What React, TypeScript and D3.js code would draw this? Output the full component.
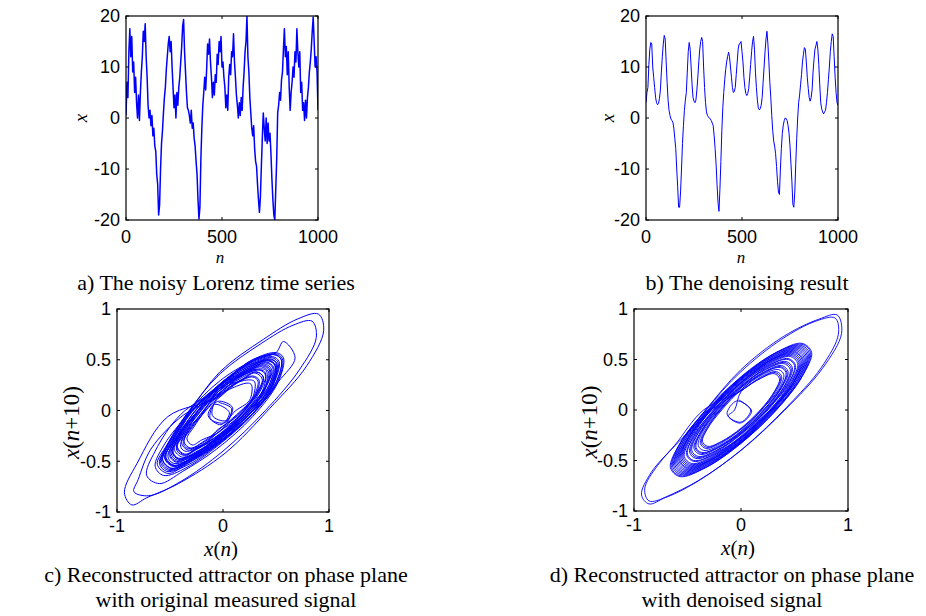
import React from "react";
import * as d3 from "d3";

// ---------------- data ----------------
// sample spacing of the time series (n units)
const nStep = 5;

// a) noisy Lorenz x(n), n = 0,5,...,1000
const noisyX = [
  0.5, 7, 4, 13, 17.5, 12, 16, 9, 11, 5, 8, 3, 0, 4.5, -0.5, 5, 9, 12, 17, 15,
  18.5, 12, 8, 2.5, 0, 1.5, -1.5, 0.5, -3.5, -2, -5.5, -6.5, -11, -13, -19, -17, -10, -5, -2.5, 1,
  4, 6, 9.5, 12, 14.5, 16, 13, 15, 10, 6, 2, 4.5, 0, 5, 2.5, 6, 8, 11, 14, 18,
  19.3, 13, 9, 5, 2, 1.5, 0.5, -1, 1.5, -2, -1, -4, -5.5, -8.5, -11, -16, -19.8, -17.5, -8, -2,
  2.5, 5, 8, 5.5, 9.5, 14.5, 12.5, 15.5, 11, 8, 4, 7, 4.5, 8.5, 7, 12.5, 10.5, 15, 13, 16,
  10, 11, 8, 6, 2, 4.5, 1.5, 8, 10.5, 8.5, 13, 12, 16.5, 11, 8, 4.5, 2.5, 0, 3, 0.5,
  4, 1.5, 6, 9, 13, 15, 20, 12, 9, 4, 1, -2, -3.5, -1.5, -6, -8.5, -9.5, -13, -16, -18.5,
  -15.5, -9.5, -4, 1, -2, -4.5, 0, -5, -1, -4.5, -3, -7, -12, -16, -19, -20, -14, -8, 1, 2.5,
  5, 3.5, 7.5, 9, 13.5, 17.5, 12, 14, 8.5, 13, 6, 1.5, 5, 7, 10, 8, 13, 11, 17.5, 13,
  10, 13, 5, 7, 1.5, 3, -0.5, 3.5, 0, 4, 6, 9, 11, 13.5, 17, 19.8, 15, 10, 12, 9,
  1.5,
];

// b) denoised x(n), n = 0,5,...,1000
const denoisedX = [
  3, 5, 6, 10.5, 13.5, 14.8, 14.5, 10, 8, 6, 4, 3, 2.6, 2.8, 3.8, 5.5, 9, 12, 14.5, 16.2,
  15.5, 11, 7, 3.5, 1.5, 0.5, -0.2, -0.5, -0.8, -2, -4, -6, -10, -13.5, -17.5, -17.5, -14.5, -10, -5, -1.5,
  1.5, 3.5, 5, 9, 13, 14.8, 13.5, 10, 6.5, 4, 3.3, 3, 3.5, 5.5, 8, 11, 13.5, 15, 15.8, 15,
  10, 6, 3, 1.2, 0.5, 0.2, 0, -0.2, -0.5, -1, -1.5, -3.5, -6, -9, -13, -16.5, -18.3, -14, -8.5, -2.5,
  2, 5, 7.5, 9.5, 11, 12, 12.9, 12, 10, 8, 6, 5, 5.2, 6, 8.5, 11, 13.5, 14.5, 14.6, 15,
  13, 11, 8, 6, 4.8, 4.4, 4.8, 5.8, 8, 10.5, 13, 15, 16, 13.5, 9, 6, 3.5, 2, 1.6, 1.8,
  2.5, 4, 7, 10, 13, 15.5, 17, 14.5, 11, 7, 4, 0.5, -2.5, -4.5, -5.5, -7, -9.5, -12.5, -14.5, -15,
  -10, -6, -3, -1.4, -0.5, 0, -0.1, -0.5, -1.5, -3, -5.5, -9, -12.5, -17, -17.5, -14.5, -9, -4, 0, 3,
  4.5, 6.5, 8.5, 11, 12.5, 13.8, 13.5, 11, 8, 5.8, 4, 3.3, 4, 5.5, 9, 11.5, 13.5, 14.2, 15, 13.5,
  10.5, 6.5, 3, 1.8, 1.2, 0.8, 1.2, 1.5, 3, 5, 7.5, 10, 13, 15, 16.5, 16, 12, 8, 5, 3,
  2.5,
];

// c) normalized measured signal for the delay embedding (successive samples are 10 steps apart)
const phaseNoisy = [
  -0.04, 0.08, 0.02, -0.12, -0.08, 0.06, -0.02, -0.14, -0.05, 0.09, 0.03, -0.10,
  -0.05, 0.13, 0.24, 0.27, 0.25, 0.10, -0.02, -0.20, -0.29, -0.34, -0.28, -0.17,
  -0.01, 0.15, 0.28, 0.33, 0.29, 0.14, -0.05, -0.19, -0.34, -0.37, -0.33, -0.20,
  -0.04, 0.19, 0.31, 0.38, 0.33, 0.18, -0.03, -0.24, -0.36, -0.44, -0.35, -0.23,
  0.00, 0.20, 0.37, 0.41, 0.39, 0.19, -0.05, -0.26, -0.42, -0.47, -0.41, -0.24,
  -0.03, 0.24, 0.40, 0.48, 0.42, 0.22, -0.02, -0.28, -0.47, -0.52, -0.45, -0.29,
  -0.04, 0.25, 0.45, 0.50, 0.47, 0.24, -0.05, -0.30, -0.48, -0.57, -0.48, -0.30,
  0.00, 0.26, 0.49, 0.55, 0.50, 0.28, -0.03, -0.32, -0.53, -0.60, -0.52, -0.33,
  -0.02, 0.30, 0.50, 0.57, 0.68, 0.52, 0.28, -0.04, -0.34, -0.56, -0.64, -0.55, -0.33,
  -0.03, 0.38, 0.70, 0.90, 0.95, 0.79, 0.44, 0.02, -0.42, -0.72, -0.86, -0.93, -0.81, -0.52,
  -0.06, 0.12, 0.27, 0.30, 0.28, 0.13, -0.04, -0.19, -0.31, -0.37, -0.30, -0.18,
  -0.02, 0.17, 0.30, 0.37, 0.31, 0.16, -0.05, -0.22, -0.36, -0.40, -0.35, -0.21,
  -0.04, 0.19, 0.35, 0.40, 0.37, 0.19, -0.02, -0.25, -0.38, -0.46, -0.38, -0.24,
  -0.01, 0.22, 0.39, 0.46, 0.40, 0.22, -0.05, -0.27, -0.44, -0.50, -0.43, -0.26,
  -0.03, 0.24, 0.43, 0.49, 0.45, 0.23, -0.03, -0.29, -0.46, -0.55, -0.46, -0.30,
  -0.02, 0.26, 0.47, 0.53, 0.48, 0.27, -0.04, -0.31, -0.50, -0.58, -0.50, -0.31,
  0.00, 0.28, 0.50, 0.57, 0.52, 0.28, -0.06, -0.38, -0.60, -0.72, -0.64, -0.40,
  -0.04, 0.21, 0.36, 0.43, 0.38, 0.20, -0.03, -0.26, -0.41, -0.48, -0.40, -0.25,
  -0.02, 0.25, 0.42, 0.50, 0.44, 0.24, -0.05, -0.28, -0.47, -0.54, -0.47, -0.29,
  -0.01, 0.28, 0.49, 0.56, 0.51, 0.27, -0.04, -0.33, -0.52, -0.62, -0.53, -0.34,
  -0.03, 0.36, 0.66, 0.84, 0.88, 0.72, 0.40, 0.00, -0.40, -0.70, -0.84, -0.80, -0.68, -0.38,
  -0.05, 0.14, 0.28, 0.34, 0.30, 0.14, -0.04, -0.21, -0.33, -0.39, -0.32, -0.20,
  -0.02, 0.18, 0.34, 0.40, 0.35, 0.19, -0.04, -0.24, -0.38, -0.44, -0.38, -0.23,
  -0.03, 0.22, 0.38, 0.45, 0.39, 0.21, -0.03, -0.27, -0.43, -0.49, -0.42, -0.27,
  -0.01, 0.24, 0.42, 0.49, 0.44, 0.23, -0.05, -0.29, -0.46, -0.54, -0.45, -0.28,
  -0.03, 0.26, 0.46, 0.52, 0.47, 0.26, -0.03, -0.31, -0.49, -0.57, -0.49, -0.31,
  -0.02, 0.23, 0.40, 0.47, 0.42, 0.22, -0.04, -0.28, -0.44, -0.51, -0.43, -0.27,
  -0.04, 0.17, 0.32, 0.38, 0.33, 0.17, -0.03, -0.23, -0.36, -0.43, -0.36, -0.22,
  -0.02, 0.21, 0.37, 0.44, 0.39, 0.20, -0.05, -0.26, -0.42, -0.48, -0.41, -0.26,
  -0.03, 0.25, 0.44, 0.51, 0.46, 0.25, -0.03, -0.30, -0.47, -0.55, -0.47, -0.30,
  -0.01, 0.27, 0.48, 0.55, 0.50, 0.27, -0.04, -0.32, -0.51, -0.59, -0.51, -0.32, -0.03,
];

// d) normalized denoised signal for the delay embedding
const phaseClean = [
  -0.02, 0.10, -0.01, -0.13, -0.04, 0.09, 0.00, -0.12, -0.06,
  0.00, 0.18, 0.31, 0.36, 0.31, 0.18, 0.00, -0.18, -0.31, -0.36, -0.31, -0.18,
  0.00, 0.20, 0.35, 0.40, 0.35, 0.20, 0.01, -0.20, -0.35, -0.40, -0.35, -0.20,
  0.00, 0.22, 0.38, 0.44, 0.38, 0.22, 0.00, -0.22, -0.38, -0.44, -0.38, -0.22,
  0.01, 0.24, 0.42, 0.48, 0.42, 0.24, 0.00, -0.24, -0.42, -0.48, -0.42, -0.24,
  0.00, 0.26, 0.44, 0.51, 0.44, 0.26, 0.01, -0.26, -0.44, -0.51, -0.44, -0.26,
  0.00, 0.27, 0.47, 0.54, 0.47, 0.27, 0.00, -0.27, -0.47, -0.54, -0.47, -0.27,
  0.01, 0.29, 0.50, 0.57, 0.50, 0.29, 0.00, -0.29, -0.50, -0.57, -0.50, -0.29,
  0.00, 0.30, 0.52, 0.60, 0.52, 0.30, 0.01, -0.30, -0.52, -0.60, -0.52, -0.30,
  0.00, 0.32, 0.55, 0.63, 0.55, 0.32, 0.00, -0.32, -0.55, -0.63, -0.55, -0.32,
  0.01, 0.33, 0.57, 0.66, 0.57, 0.33, 0.00, -0.33, -0.57, -0.66, -0.57, -0.33,
  0.00, 0.40, 0.73, 0.90, 0.94, 0.76, 0.41, 0.00, -0.40, -0.70, -0.86, -0.93, -0.84, -0.62, -0.35,
  0.00, 0.19, 0.33, 0.38, 0.33, 0.19, 0.00, -0.19, -0.33, -0.38, -0.33, -0.19,
  0.00, 0.22, 0.37, 0.43, 0.37, 0.22, 0.01, -0.22, -0.37, -0.43, -0.37, -0.22,
  0.00, 0.24, 0.41, 0.47, 0.41, 0.24, 0.00, -0.24, -0.41, -0.47, -0.41, -0.24,
  0.01, 0.28, 0.48, 0.55, 0.48, 0.28, 0.00, -0.28, -0.48, -0.55, -0.48, -0.28,
  0.00, 0.29, 0.50, 0.58, 0.50, 0.29, 0.01, -0.29, -0.50, -0.58, -0.50, -0.29,
  0.00, 0.31, 0.54, 0.62, 0.54, 0.31, 0.00, -0.31, -0.54, -0.62, -0.54, -0.31,
  0.00, 0.33, 0.57, 0.65, 0.57, 0.33, 0.00, -0.33, -0.57, -0.65, -0.57, -0.33,
  0.00, 0.38, 0.70, 0.88, 0.91, 0.75, 0.42, 0.02, -0.38, -0.69, -0.86, -0.90, -0.78, -0.55, -0.28,
  0.00, 0.19, 0.32, 0.37, 0.32, 0.19, 0.00, -0.19, -0.32, -0.37, -0.32, -0.19,
  0.01, 0.21, 0.37, 0.42, 0.37, 0.21, 0.00, -0.21, -0.37, -0.42, -0.37, -0.21,
  0.00, 0.23, 0.40, 0.46, 0.40, 0.23, 0.00, -0.23, -0.40, -0.46, -0.40, -0.23,
  0.00, 0.25, 0.44, 0.50, 0.44, 0.25, 0.01, -0.25, -0.44, -0.50, -0.44, -0.25,
  0.00, 0.27, 0.46, 0.53, 0.46, 0.27, 0.00, -0.27, -0.46, -0.53, -0.46, -0.27,
  0.01, 0.28, 0.49, 0.56, 0.49, 0.28, 0.00, -0.28, -0.49, -0.56, -0.49, -0.28,
  0.00, 0.30, 0.51, 0.59, 0.51, 0.30, 0.00, -0.30, -0.51, -0.59, -0.51, -0.30,
  0.00, 0.31, 0.53, 0.61, 0.53, 0.31, 0.01, -0.31, -0.53, -0.61, -0.53, -0.31,
  0.00, 0.32, 0.56, 0.64, 0.56, 0.32, 0.00, -0.32, -0.56, -0.64, -0.56, -0.32, 0.00,
];

const tsXTicks = [0, 500, 1000];
const tsYTicks = [-20, -10, 0, 10, 20];
const phXTicks = [-1, 0, 1];
const phYTicks = [-1, -0.5, 0, 0.5, 1];

const captionA = ["a) The noisy Lorenz time series"];
const captionB = ["b) The denoising result"];
const captionC = ["c) Reconstructed attractor on phase plane", "with original measured signal"];
const captionD = ["d) Reconstructed attractor on phase plane", "with denoised signal"];

// ---------------- layout ----------------
const BLUE = "#0000ff";
const SANS = "'Liberation Sans', Arial, Helvetica, sans-serif";
const SERIF = "'Liberation Serif', 'Times New Roman', Times, serif";
const TICK_FS = 18;
const TICK_LEN = 3;

type Box = { x0: number; y0: number; x1: number; y1: number };

function Frame({ box, xs, ys, xPos, yPos, xLabelGap }: any) {
  const { x0, y0, x1, y1 } = box;
  return (
    <g>
      {xs.map((t: number, i: number) => (
        <g key={"xt" + i}>
          <line x1={xPos(t)} x2={xPos(t)} y1={y1} y2={y1 - TICK_LEN} stroke="#000" />
          <line x1={xPos(t)} x2={xPos(t)} y1={y0} y2={y0 + TICK_LEN} stroke="#000" />
          <text x={xPos(t)} y={y1 + xLabelGap} textAnchor="middle" fontFamily={SANS} fontSize={TICK_FS}>
            {String(t)}
          </text>
        </g>
      ))}
      {ys.map((t: number, i: number) => (
        <g key={"yt" + i}>
          <line x1={x0} x2={x0 + TICK_LEN} y1={yPos(t)} y2={yPos(t)} stroke="#000" />
          <line x1={x1} x2={x1 - TICK_LEN} y1={yPos(t)} y2={yPos(t)} stroke="#000" />
          <text x={x0 - 6} y={yPos(t)} dy="0.36em" textAnchor="end" fontFamily={SANS} fontSize={TICK_FS}>
            {String(t)}
          </text>
        </g>
      ))}
      <rect x={x0} y={y0} width={x1 - x0} height={y1 - y0} fill="none" stroke="#000" strokeWidth={1.2} />
    </g>
  );
}

function TimePanel({ id, box, values, sw, yLabelX, nLabelX }: any) {
  const b: Box = box;
  const x = d3.scaleLinear().domain([0, 1000]).range([b.x0, b.x1]);
  const y = d3.scaleLinear().domain([-20, 20]).range([b.y1, b.y0]);
  const line = d3
    .line<number>()
    .x((_, i) => x(i * nStep))
    .y((v) => y(v));
  return (
    <g>
      <clipPath id={id}>
        <rect x={b.x0} y={b.y0} width={b.x1 - b.x0} height={b.y1 - b.y0} />
      </clipPath>
      <path d={line(values) || ""} fill="none" stroke={BLUE} strokeWidth={sw} strokeLinejoin="round" clipPath={`url(#${id})`} />
      <Frame box={b} xs={tsXTicks} ys={tsYTicks} xPos={x} yPos={y} xLabelGap={23} />
      <text
        transform={`translate(${yLabelX},${(b.y0 + b.y1) / 2}) rotate(-90)`}
        textAnchor="middle"
        fontFamily={SERIF}
        fontStyle="italic"
        fontSize={19}
      >
        x
      </text>
      <text x={nLabelX} y={b.y1 + 43} textAnchor="middle" fontFamily={SERIF} fontStyle="italic" fontSize={17}>
        n
      </text>
    </g>
  );
}

function PhasePanel({ id, box, values, sw, yLabelX, xLabelX }: any) {
  const b: Box = box;
  const x = d3.scaleLinear().domain([-1, 1]).range([b.x0, b.x1]);
  const y = d3.scaleLinear().domain([-1, 1]).range([b.y1, b.y0]);
  const pts: [number, number][] = values.slice(0, -1).map((v: number, i: number) => [v, values[i + 1]]);
  const line = d3
    .line<[number, number]>()
    .x((p) => x(p[0]))
    .y((p) => y(p[1]))
    .curve(d3.curveCatmullRom.alpha(0.5));
  return (
    <g>
      <clipPath id={id}>
        <rect x={b.x0} y={b.y0} width={b.x1 - b.x0} height={b.y1 - b.y0} />
      </clipPath>
      <path d={line(pts) || ""} fill="none" stroke={BLUE} strokeWidth={sw} clipPath={`url(#${id})`} />
      <Frame box={b} xs={phXTicks} ys={phYTicks} xPos={x} yPos={y} xLabelGap={20} />
      <text
        transform={`translate(${yLabelX},${(b.y0 + b.y1) / 2 + 12}) rotate(-90)`}
        textAnchor="middle"
        fontFamily={SERIF}
        fontSize={23}
      >
        <tspan fontStyle="italic">x</tspan>(<tspan fontStyle="italic">n</tspan>+10)
      </text>
      <text x={xLabelX} y={b.y1 + 44} textAnchor="middle" fontFamily={SERIF} fontSize={21}>
        <tspan fontStyle="italic">x</tspan>(<tspan fontStyle="italic">n</tspan>)
      </text>
    </g>
  );
}

function Caption({ lines, cx, y }: { lines: string[]; cx: number; y: number }) {
  return (
    <g>
      {lines.map((l, i) => (
        <text key={i} x={cx} y={y + i * 25} textAnchor="middle" fontFamily={SERIF} fontSize={22}>
          {l}
        </text>
      ))}
    </g>
  );
}

export default function App() {
  return (
    <svg
      width={926}
      height={616}
      viewBox="0 0 926 616"
      style={{ position: "absolute", left: 0, top: 0, background: "#fff" }}
    >
      <rect x={0} y={0} width={926} height={616} fill="#fff" />
      <TimePanel id="ca" box={{ x0: 126, y0: 16, x1: 318, y1: 220 }} values={noisyX} sw={1.5} yLabelX={87} nLabelX={220} />
      <TimePanel id="cb" box={{ x0: 646, y0: 16, x1: 838, y1: 220 }} values={denoisedX} sw={1} yLabelX={614} nLabelX={741} />
      <PhasePanel id="cc" box={{ x0: 117, y0: 309, x1: 329, y1: 512 }} values={phaseNoisy} sw={1} yLabelX={79} xLabelX={221} />
      <PhasePanel id="cd" box={{ x0: 634, y0: 309, x1: 848, y1: 511 }} values={phaseClean} sw={0.9} yLabelX={597} xLabelX={738} />
      <Caption lines={captionA} cx={216} y={290} />
      <Caption lines={captionB} cx={747} y={290} />
      <Caption lines={captionC} cx={226} y={582} />
      <Caption lines={captionD} cx={732} y={582} />
    </svg>
  );
}
